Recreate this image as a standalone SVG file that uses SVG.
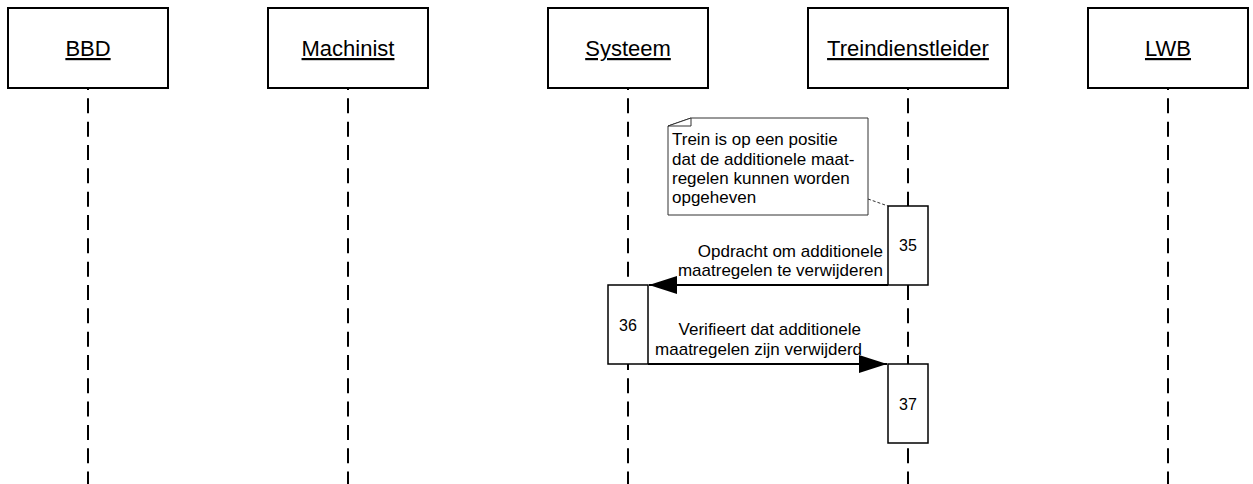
<svg xmlns="http://www.w3.org/2000/svg" width="1253" height="484" viewBox="0 0 1253 484">
  <style>
    .head { fill: #ffffff; stroke: #000000; stroke-width: 2; }
    .headtxt { font-family: "Liberation Sans", Arial, sans-serif; font-size: 22px; fill: #000000; text-anchor: middle; text-decoration: underline; }
    .life { stroke: #000000; stroke-width: 2; stroke-dasharray: 15 8.33; stroke-dashoffset: 13; fill: none; }
    .act { fill: #ffffff; stroke: #000000; stroke-width: 1.5; }
    .num { font-family: "Liberation Sans", Arial, sans-serif; font-size: 16px; fill: #000000; text-anchor: middle; }
    .msg { stroke: #000000; stroke-width: 2; fill: none; }
    .msgtxt { font-family: "Liberation Sans", Arial, sans-serif; font-size: 17px; fill: #000000; text-anchor: end; }
    .note { fill: #ffffff; stroke: #333333; stroke-width: 1; }
    .notetxt { font-family: "Liberation Sans", Arial, sans-serif; font-size: 17px; fill: #000000; }
    .anchor { stroke: #333333; stroke-width: 1; stroke-dasharray: 3 2; fill: none; }
  </style>
  <defs>
    <marker id="arrow" markerWidth="28" markerHeight="18" refX="28" refY="9" orient="auto" markerUnits="userSpaceOnUse">
      <path d="M0,0 L28,9 L0,18 Z" fill="#000000"/>
    </marker>
  </defs>
  <rect width="1253" height="484" fill="#ffffff"/>

  <!-- lifelines -->
  <g id="lifelines">
    <line class="life" x1="88" y1="88" x2="88" y2="484"/>
    <line class="life" x1="348" y1="88" x2="348" y2="484"/>
    <line class="life" x1="628" y1="88" x2="628" y2="484"/>
    <line class="life" x1="908" y1="88" x2="908" y2="484"/>
    <line class="life" x1="1168" y1="88" x2="1168" y2="484"/>
  </g>

  <!-- participants -->
  <g id="bbd">
    <rect class="head" x="8" y="8" width="160" height="80"/>
    <text class="headtxt" x="88" y="56">BBD</text>
  </g>
  <g id="machinist">
    <rect class="head" x="268" y="8" width="160" height="80"/>
    <text class="headtxt" x="348" y="56">Machinist</text>
  </g>
  <g id="systeem">
    <rect class="head" x="548" y="8" width="160" height="80"/>
    <text class="headtxt" x="628" y="56">Systeem</text>
  </g>
  <g id="treindienstleider">
    <rect class="head" x="808" y="8" width="200" height="80"/>
    <text class="headtxt" x="908" y="56">Treindienstleider</text>
  </g>
  <g id="lwb">
    <rect class="head" x="1088" y="8" width="160" height="80"/>
    <text class="headtxt" x="1168" y="56">LWB</text>
  </g>

  <!-- note with folded corner -->
  <g id="note">
    <path class="note" d="M668,126 L691,118 L868,118 L868,215 L668,215 Z"/>
    <path class="note" d="M668,126 L691,118 L691,126 Z" fill="none"/>
    <text class="notetxt" x="672" y="145">Trein is op een positie</text>
    <text class="notetxt" x="672" y="165">dat de additionele maat-</text>
    <text class="notetxt" x="672" y="184">regelen kunnen worden</text>
    <text class="notetxt" x="672" y="203">opgeheven</text>
  </g>

  <!-- activations -->
  <g id="act35">
    <rect class="act" x="888" y="206" width="40" height="79"/>
    <text class="num" x="908" y="251">35</text>
  </g>
  <g id="act36">
    <rect class="act" x="608" y="285" width="40" height="79"/>
    <text class="num" x="628" y="331">36</text>
  </g>
  <g id="act37">
    <rect class="act" x="888" y="364" width="40" height="79"/>
    <text class="num" x="908" y="410">37</text>
  </g>

  <!-- connectors -->
  <g id="connectors">
    <line class="anchor" x1="868" y1="199" x2="888" y2="206"/>
    <line class="msg" x1="888" y1="285" x2="649" y2="285" marker-end="url(#arrow)"/>
    <text class="msgtxt" x="883" y="257">Opdracht om additionele</text>
    <text class="msgtxt" x="883" y="276">maatregelen te verwijderen</text>
    <line class="msg" x1="648" y1="364" x2="887" y2="364" marker-end="url(#arrow)"/>
    <text class="msgtxt" x="861" y="335">Verifieert dat additionele</text>
    <text class="msgtxt" x="862" y="355">maatregelen zijn verwijderd</text>
  </g>
</svg>
